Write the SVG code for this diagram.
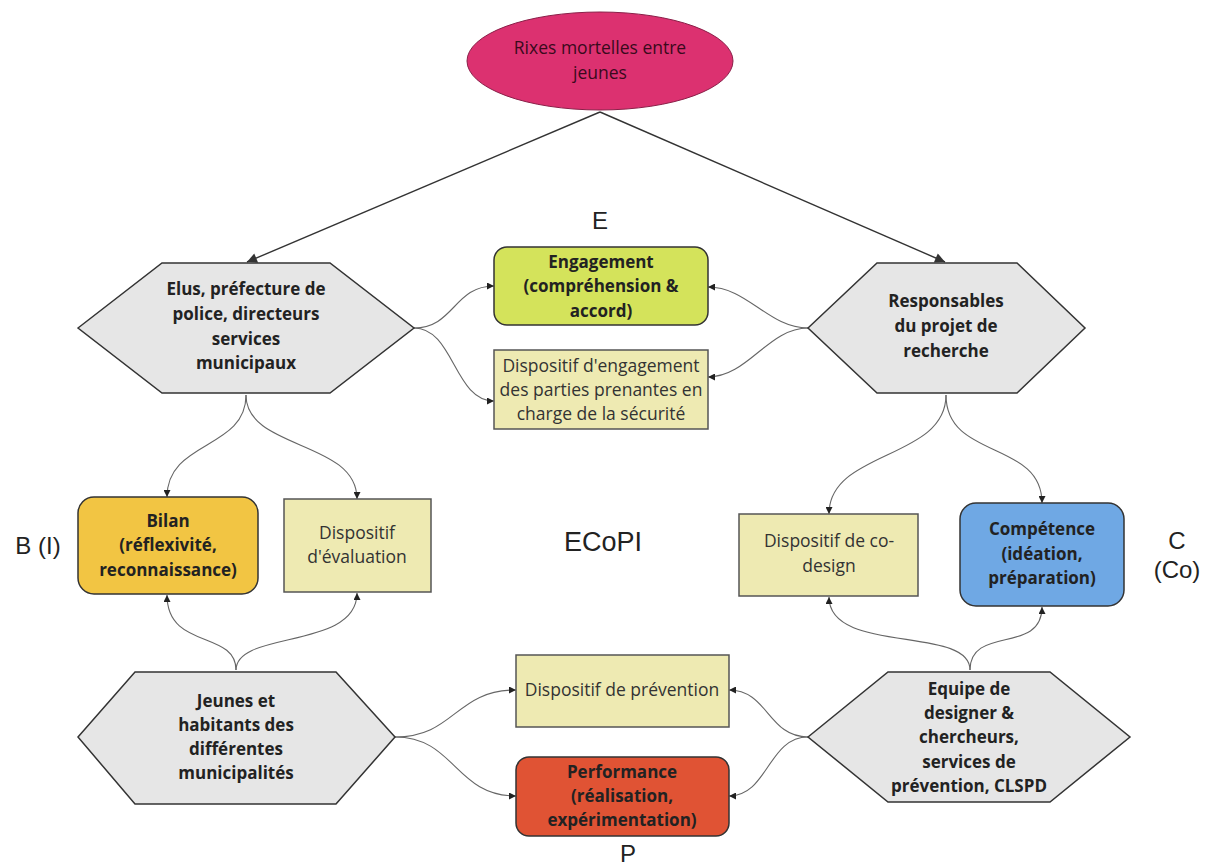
<svg xmlns="http://www.w3.org/2000/svg" width="1207" height="866" viewBox="0 0 1207 866">
<style>
.hex{fill:#e6e6e6;stroke:#333;stroke-width:1.5}
.box{stroke:#333;stroke-width:1.5}
.disp{fill:#eeeab2;stroke:#555;stroke-width:1.5}
.b{font-family:"Open Sans","Noto Sans",sans-serif;font-weight:bold;font-size:17px;fill:#222;text-anchor:middle}
.r{font-family:"Open Sans","Noto Sans",sans-serif;font-size:17.5px;fill:#333;text-anchor:middle}
.lab{font-family:"Liberation Sans",Arial,sans-serif;font-size:24px;fill:#222;text-anchor:middle}
.c{fill:none;stroke:#666;stroke-width:1.1;marker-end:url(#a)}
.m{fill:none;stroke:#333;stroke-width:1.4;marker-end:url(#am)}
</style>
<defs>
<marker id="a" viewBox="0 0 10 10" refX="10" refY="5" markerWidth="9" markerHeight="7" markerUnits="userSpaceOnUse" orient="auto"><path d="M0,0 L10,5 L0,10 z" fill="#222"/></marker>
<marker id="am" viewBox="0 0 10 10" refX="10" refY="5" markerWidth="13" markerHeight="10" markerUnits="userSpaceOnUse" orient="auto"><path d="M0,0 L10,5 L0,10 z" fill="#333"/></marker>
</defs>
<rect width="1207" height="866" fill="#fff"/>
<g id="connectors">
<path class="m" d="M600,112 L247,262"/>
<path class="m" d="M600,112 L945,262"/>
<path class="c" d="M414,328 C454,328 454,286 494,286"/>
<path class="c" d="M414,328 C454,328 454,401 494,401"/>
<path class="c" d="M808,328 C768,328 748,287 708,287"/>
<path class="c" d="M808,328 C768,328 748,377 708,377"/>
<path class="c" d="M246,395 C246,450 167,440 167,497"/>
<path class="c" d="M246,395 C246,450 357,440 357,499"/>
<path class="c" d="M946,395 C946,460 829,450 829,514"/>
<path class="c" d="M946,395 C946,460 1042,440 1042,503"/>
<path class="c" d="M236,670 C236,630 167,650 167,595"/>
<path class="c" d="M236,670 C236,630 357,650 357,593"/>
<path class="c" d="M970,670 C970,625 829,655 829,597"/>
<path class="c" d="M970,670 C970,625 1042,655 1042,607"/>
<path class="c" d="M395,737 C455,737 455,690 516,690"/>
<path class="c" d="M395,737 C455,737 455,796 516,796"/>
<path class="c" d="M808,737 C768,737 768,690 729,690"/>
<path class="c" d="M808,737 C768,737 768,796 729,796"/>
</g>
<g id="rixes">
<ellipse cx="600" cy="61" rx="133" ry="49" fill="#dc3170" stroke="#8a1f48" stroke-width="1"/>
<text class="r" x="600" y="54" style="fill:#3a0a1c">Rixes mortelles entre</text>
<text class="r" x="600" y="79" style="fill:#3a0a1c">jeunes</text>
</g>
<g id="elus">
<polygon class="hex" points="78,328 162,263 330,263 414,328 330,393 162,393"/>
<text class="b" x="246" y="295">Elus, préfecture de</text>
<text class="b" x="246" y="320">police, directeurs</text>
<text class="b" x="246" y="345">services</text>
<text class="b" x="246" y="369">municipaux</text>
</g>
<g id="responsables">
<polygon class="hex" points="808,328 877,263 1017,263 1085,328 1017,393 877,393"/>
<text class="b" x="946" y="307">Responsables</text>
<text class="b" x="946" y="332">du projet de</text>
<text class="b" x="946" y="357">recherche</text>
</g>
<g id="labelE"><text class="lab" x="600" y="229">E</text></g>
<g id="engagement">
<rect class="box" x="494" y="247" width="214" height="78" rx="13" fill="#d4e35b"/>
<text class="b" x="601" y="268">Engagement</text>
<text class="b" x="601" y="292">(compréhension &amp;</text>
<text class="b" x="601" y="317">accord)</text>
</g>
<g id="dispEngagement">
<rect class="disp" x="494" y="350" width="214" height="79"/>
<text class="r" x="601" y="372">Dispositif d'engagement</text>
<text class="r" x="601" y="396">des parties prenantes en</text>
<text class="r" x="601" y="420">charge de la sécurité</text>
</g>
<g id="labelB"><text class="lab" x="38" y="554">B (I)</text></g>
<g id="bilan">
<rect class="box" x="78" y="497" width="180" height="97" rx="16" fill="#f2c543"/>
<text class="b" x="168" y="527">Bilan</text>
<text class="b" x="168" y="551">(réflexivité,</text>
<text class="b" x="168" y="576">reconnaissance)</text>
</g>
<g id="evaluation">
<rect class="disp" x="284" y="499" width="147" height="93"/>
<text class="r" x="357" y="539">Dispositif</text>
<text class="r" x="357" y="563">d'évaluation</text>
</g>
<g id="ecopi"><text class="lab" x="603" y="551" style="font-size:27px">ECoPI</text></g>
<g id="codesign">
<rect class="disp" x="739" y="514" width="179" height="82"/>
<text class="r" x="829" y="547">Dispositif de co-</text>
<text class="r" x="829" y="572">design</text>
</g>
<g id="competence">
<rect class="box" x="960" y="503" width="164" height="103" rx="16" fill="#6fa8e4"/>
<text class="b" x="1042" y="535">Compétence</text>
<text class="b" x="1042" y="560">(idéation,</text>
<text class="b" x="1042" y="584">préparation)</text>
</g>
<g id="labelC">
<text class="lab" x="1177" y="549">C</text>
<text class="lab" x="1177" y="578">(Co)</text>
</g>
<g id="jeunes">
<polygon class="hex" points="78,737 135,672 336,672 395,737 336,804 135,804"/>
<text class="b" x="236" y="707">Jeunes et</text>
<text class="b" x="236" y="731">habitants des</text>
<text class="b" x="236" y="755">différentes</text>
<text class="b" x="236" y="779">municipalités</text>
</g>
<g id="prevention">
<rect class="disp" x="516" y="655" width="213" height="72"/>
<text class="r" x="622" y="696">Dispositif de prévention</text>
</g>
<g id="performance">
<rect class="box" x="516" y="757" width="213" height="79" rx="13" fill="#e05334"/>
<text class="b" x="622" y="778">Performance</text>
<text class="b" x="622" y="802">(réalisation,</text>
<text class="b" x="622" y="826">expérimentation)</text>
</g>
<g id="labelP"><text class="lab" x="628" y="862">P</text></g>
<g id="equipe">
<polygon class="hex" points="808,737 888,672 1050,672 1130,737 1050,802 888,802"/>
<text class="b" x="969" y="695">Equipe de</text>
<text class="b" x="969" y="719">designer &amp;</text>
<text class="b" x="969" y="743">chercheurs,</text>
<text class="b" x="969" y="768">services de</text>
<text class="b" x="969" y="792">prévention, CLSPD</text>
</g>
</svg>
